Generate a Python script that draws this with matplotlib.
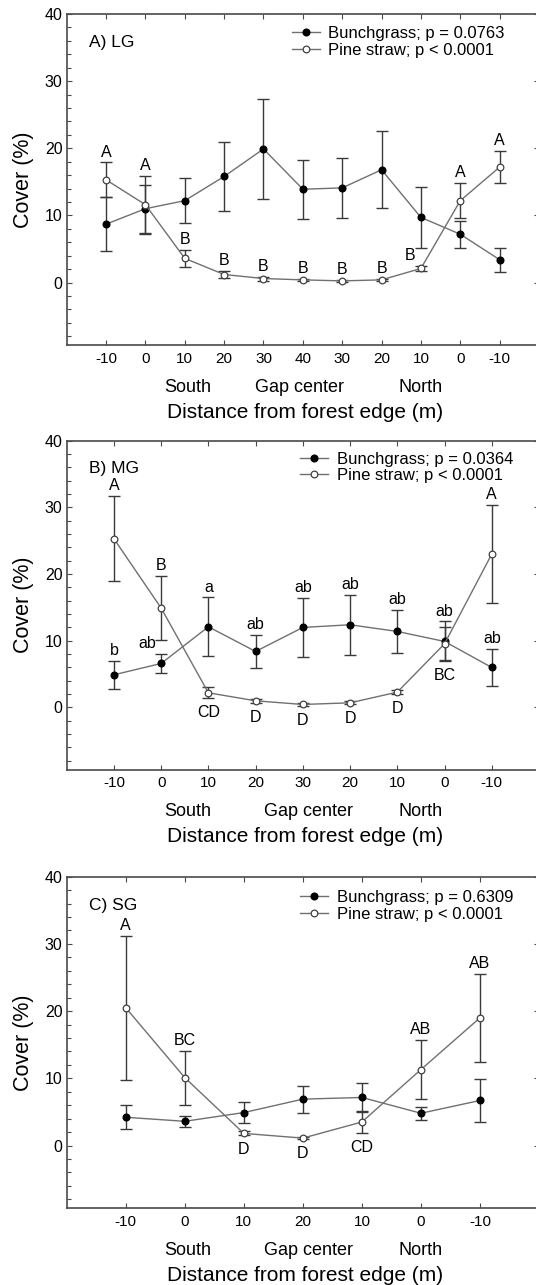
import matplotlib.pyplot as plt
from matplotlib.ticker import MultipleLocator

plt.rcParams['font.family'] = ['Liberation Sans', 'DejaVu Sans']

######## Data (cover %, mean and SE) ########

# A) LG - large gaps
ticks_A = ['-10', '0', '10', '20', '30', '40', '30', '20', '10', '0', '-10']
bunch_A = [8.7, 11.0, 12.2, 15.8, 19.9, 13.9, 14.1, 16.8, 9.7, 7.2, 3.4]
bunch_A_se = [4.0, 3.6, 3.4, 5.1, 7.4, 4.4, 4.5, 5.7, 4.5, 2.0, 1.8]
pine_A = [15.3, 11.6, 3.6, 1.2, 0.6, 0.4, 0.25, 0.4, 2.1, 12.2, 17.2]
pine_A_se = [2.6, 4.3, 1.3, 0.5, 0.3, 0.2, 0.15, 0.2, 0.4, 2.6, 2.4]
pine_A_letters = ['A', 'A', 'B', 'B', 'B', 'B', 'B', 'B', 'B', 'A', 'A']
bunch_A_letters = [''] * 11

# B) MG - medium gaps
ticks_B = ['-10', '0', '10', '20', '30', '20', '10', '0', '-10']
bunch_B = [4.9, 6.6, 12.1, 8.4, 12.0, 12.4, 11.4, 9.9, 6.0]
bunch_B_se = [2.1, 1.4, 4.4, 2.5, 4.4, 4.5, 3.2, 3.0, 2.8]
pine_B = [25.3, 14.9, 2.2, 1.0, 0.45, 0.7, 2.3, 9.55, 23.0]
pine_B_se = [6.4, 4.8, 0.85, 0.3, 0.2, 0.25, 0.3, 2.5, 7.4]
pine_B_letters = ['A', 'B', 'CD', 'D', 'D', 'D', 'D', 'BC', 'A']
bunch_B_letters = ['b', 'ab', 'a', 'ab', 'ab', 'ab', 'ab', 'ab', 'ab']

# C) SG - small gaps
ticks_C = ['-10', '0', '10', '20', '10', '0', '-10']
bunch_C = [4.2, 3.6, 4.9, 6.9, 7.15, 4.8, 6.7]
bunch_C_se = [1.8, 0.8, 1.6, 2.0, 2.1, 1.0, 3.2]
pine_C = [20.5, 10.1, 1.8, 1.1, 3.5, 11.3, 19.0]
pine_C_se = [10.7, 4.0, 0.3, 0.2, 1.6, 4.4, 6.5]
pine_C_letters = ['A', 'BC', 'D', 'D', 'CD', 'AB', 'AB']
bunch_C_letters = [''] * 7

panel_names = ['A) LG', 'B) MG', 'C) SG']
p_bunch = ['0.0763', '0.0364', '0.6309']
p_pine = ['< 0.0001', '< 0.0001', '< 0.0001']

######## Layout (pixels of a 536x1285 figure) ########
W, H = 536, 1285
axes_px = [(66.7, 14, 539, 345), (66.7, 440.7, 539, 769.5), (66.7, 876.7, 539, 1208)]
legend_anchor = [(0.476, 0.964), (0.494, 0.967), (0.494, 0.959)]
gap_pos = [0.493, 0.513, 0.512]

# (panel, position) of pine letters written under the error bars
below = {(1, 2), (1, 3), (1, 4), (1, 5), (1, 6), (1, 7), (2, 2), (2, 3), (2, 4)}
# small sideways nudges (points) for letters that would hit a line
nudges = {(0, 'pine', 8): -8, (1, 'bunch', 1): -10}

line_col = '#707070'
err_col = '#3a3a3a'
spine_col = '#4a4a4a'

fig = plt.figure(figsize=(W / 100, H / 100), dpi=100)

data = [
    (ticks_A, bunch_A, bunch_A_se, pine_A, pine_A_se, bunch_A_letters, pine_A_letters),
    (ticks_B, bunch_B, bunch_B_se, pine_B, pine_B_se, bunch_B_letters, pine_B_letters),
    (ticks_C, bunch_C, bunch_C_se, pine_C, pine_C_se, bunch_C_letters, pine_C_letters),
]

for k, (ticks, bunch, bunch_se, pine, pine_se, b_let, p_let) in enumerate(data):
    x0, y0, x1, y1 = axes_px[k]
    ax = fig.add_axes([x0 / W, 1 - y1 / H, (x1 - x0) / W, (y1 - y0) / H])
    x = list(range(1, len(ticks) + 1))

    ax.errorbar(x, bunch, yerr=bunch_se, fmt='none', ecolor=err_col, elinewidth=1,
                capsize=4, capthick=1, zorder=2)
    ax.errorbar(x, pine, yerr=pine_se, fmt='none', ecolor=err_col, elinewidth=1,
                capsize=4, capthick=1, zorder=2)
    ax.plot(x, bunch, '-o', color=line_col, lw=1, mfc='black', mec='black', ms=4.8,
            label='Bunchgrass; p = ' + p_bunch[k], zorder=3)
    ax.plot(x, pine, '-o', color=line_col, lw=1, mfc='white', mec='#404040', ms=4.8,
            mew=0.9, label='Pine straw; p ' + p_pine[k], zorder=3)

    # significance letters
    for series, means, ses, letters in [('bunch', bunch, bunch_se, b_let),
                                        ('pine', pine, pine_se, p_let)]:
        for i, let in enumerate(letters):
            if not let:
                continue
            dx = nudges.get((k, series, i), 0)
            if series == 'pine' and (k, i) in below:
                low = min(bunch[i] - bunch_se[i], pine[i] - pine_se[i])
                ax.annotate(let, (x[i], low), xytext=(dx, -5), textcoords='offset points',
                            ha='center', va='top', fontsize=11.5)
            else:
                ax.annotate(let, (x[i], means[i] + ses[i]), xytext=(dx, 2),
                            textcoords='offset points', ha='center', va='bottom', fontsize=11.5)

    ax.set_xlim(0, len(ticks) + 1)
    ax.set_ylim(-9.3, 40)
    ax.set_xticks(x)
    ax.set_xticklabels(ticks)
    ax.set_yticks([0, 10, 20, 30, 40])
    ax.yaxis.set_minor_locator(MultipleLocator(2))
    ax.tick_params(which='both', direction='in', top=True, right=True, colors=spine_col,
                   labelcolor='black', labelsize=11)
    ax.tick_params(which='major', length=3.5, width=0.8)
    ax.tick_params(which='minor', length=3, width=0.8, right=False)
    ax.tick_params(axis='x', pad=5)
    ax.tick_params(axis='y', pad=3, labelsize=11.5)
    for s in ax.spines.values():
        s.set_color(spine_col)
        s.set_linewidth(1.2)

    ax.set_ylabel('Cover (%)', fontsize=15.5)
    ax.yaxis.set_label_coords(-0.0925, 0.5)
    ax.yaxis.label.set_va('center')
    ax.set_xlabel('Distance from forest edge (m)', fontsize=15)
    ax.xaxis.set_label_coords(0.505, -0.205)
    ax.xaxis.label.set_va('center')

    for fx, lab in [(0.256, 'South'), (gap_pos[k], 'Gap center'), (0.749, 'North')]:
        ax.text(fx, -0.128, lab, transform=ax.transAxes, ha='center', va='center', fontsize=13)

    ax.text(0.047, 0.914, panel_names[k], transform=ax.transAxes, ha='left', va='center',
            fontsize=12.5)

    ax.legend(loc='upper left', bbox_to_anchor=legend_anchor[k], frameon=False, fontsize=12,
              borderpad=0, borderaxespad=0, handlelength=1.7, handletextpad=0.5,
              labelspacing=0.1)

fig.savefig('out.png', dpi=100)
